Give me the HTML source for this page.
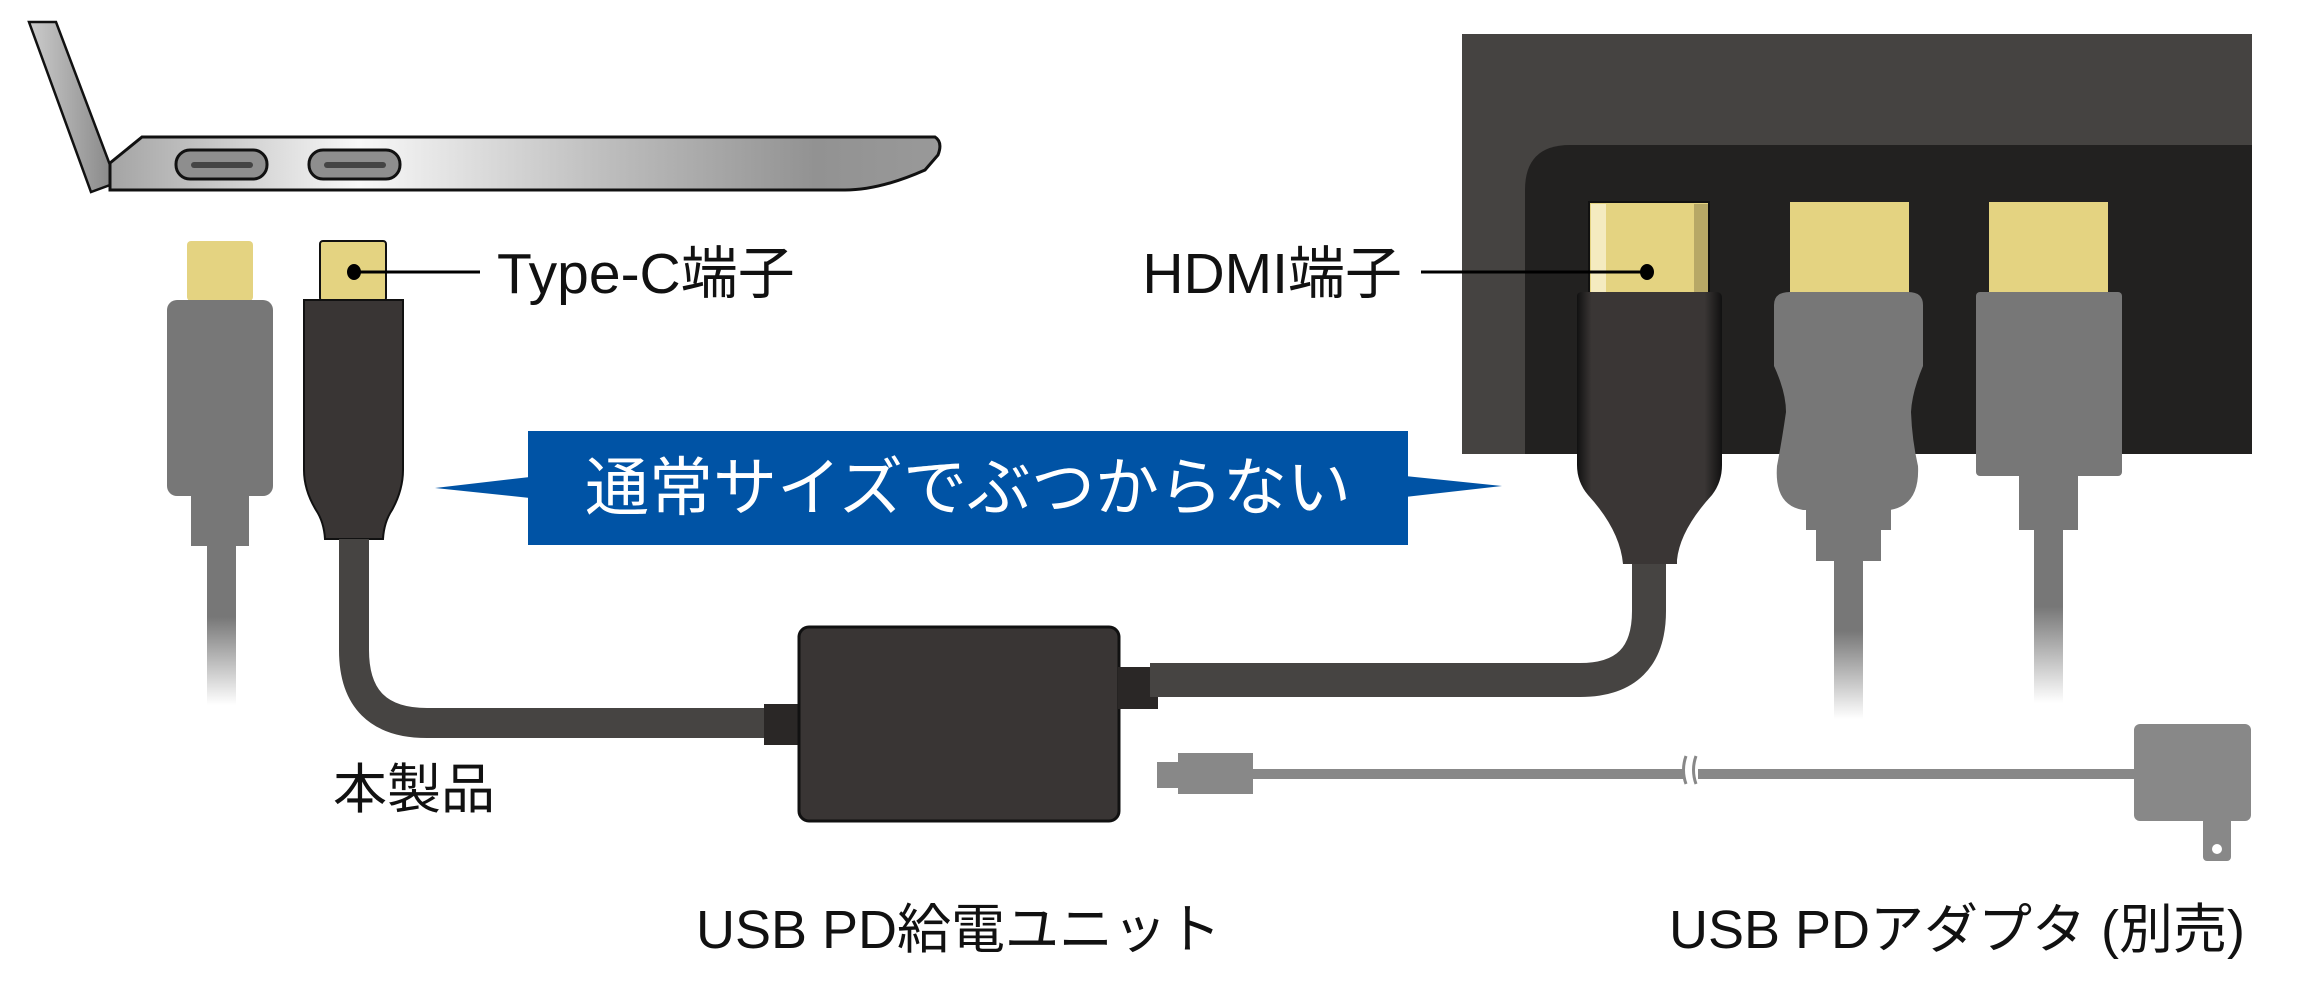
<!DOCTYPE html>
<html><head><meta charset="utf-8"><style>
html,body{margin:0;padding:0;background:#fff;}
svg{display:block;}
text{font-family:"Liberation Sans","Noto Sans CJK JP",sans-serif;}
</style></head><body>
<svg width="2297" height="1000" viewBox="0 0 2297 1000" xmlns="http://www.w3.org/2000/svg">
<defs>
<linearGradient id="base" x1="0" x2="1" y1="0" y2="0">
<stop offset="0" stop-color="#a4a4a4"/><stop offset="0.3" stop-color="#f8f8f8"/><stop offset="0.6" stop-color="#bdbdbd"/><stop offset="0.85" stop-color="#929292"/><stop offset="1" stop-color="#999"/>
</linearGradient>
<linearGradient id="lid" x1="0" x2="1"><stop offset="0" stop-color="#ccc"/><stop offset="1" stop-color="#8a8a8a"/></linearGradient>
<linearGradient id="fadeL" x1="0" x2="0" y1="0" y2="1"><stop offset="0" stop-color="#777"/><stop offset="0.45" stop-color="#777"/><stop offset="1" stop-color="#777" stop-opacity="0"/></linearGradient>
<linearGradient id="blk" x1="0" x2="1"><stop offset="0" stop-color="#111"/><stop offset="0.1" stop-color="#3a3635"/><stop offset="0.88" stop-color="#3a3635"/><stop offset="1" stop-color="#111"/></linearGradient>
</defs>

<!-- laptop -->
<polygon points="29,22 56,22 110,165 110,185 91,192" fill="url(#lid)" stroke="#111" stroke-width="2.5"/>
<path d="M110,163 L142,137 L935,137 Q943,142 938,155 L925,170 Q880,190 845,190 L110,190 Z" fill="url(#base)" stroke="#111" stroke-width="3"/>
<rect x="176" y="150" width="91" height="29" rx="14" fill="#8e8e8e" stroke="#111" stroke-width="3"/>
<rect x="191" y="162" width="62" height="6" rx="3" fill="#444"/>
<rect x="309" y="150" width="91" height="29" rx="14" fill="#8e8e8e" stroke="#111" stroke-width="3"/>
<rect x="324" y="162" width="62" height="6" rx="3" fill="#444"/>

<!-- left gray plug -->
<rect x="187" y="241" width="66" height="60" rx="4" fill="#e4d381"/>
<rect x="167" y="300" width="106" height="196" rx="10" fill="#777"/>
<rect x="191" y="494" width="58" height="52" fill="#777"/>
<rect x="207" y="545" width="29" height="160" fill="url(#fadeL)"/>

<!-- black typec plug -->
<rect x="320" y="241" width="66" height="60" rx="3" fill="#e4d381" stroke="#111" stroke-width="2"/>
<path d="M304,300 L403,300 L403,470 Q403,490 392,510 Q384,522 383,539 L325,539 Q324,522 316,510 Q304,490 304,470 Z" fill="#393534" stroke="#111" stroke-width="2"/>
<path d="M354,539 L354,650 Q354,723 427,723 L770,723" fill="none" stroke="#464442" stroke-width="30"/>
<rect x="764" y="704" width="38" height="41" fill="#2a2726"/>

<!-- unit -->
<rect x="799" y="627" width="320" height="194" rx="10" fill="#393534" stroke="#111" stroke-width="3"/>
<rect x="1118" y="667" width="40" height="42" fill="#2a2726"/>

<!-- right cable -->
<path d="M1150,680 L1580,680 Q1649,680 1649,611 L1649,560" fill="none" stroke="#464442" stroke-width="34"/>

<!-- mini usb + adapter -->
<rect x="1157" y="762" width="24" height="26" fill="#888"/>
<rect x="1178" y="753" width="75" height="41" fill="#888"/>
<rect x="1250" y="769" width="890" height="10" fill="#888"/>
<rect x="1684" y="760" width="14" height="28" fill="#fff"/>
<path d="M1686,756 q-5,14 0,28 M1696,756 q-5,14 0,28" stroke="#888" stroke-width="3" fill="none"/>
<rect x="2134" y="724" width="117" height="97" rx="6" fill="#888"/>
<rect x="2203" y="815" width="28" height="46" rx="4" fill="#888"/>
<circle cx="2217" cy="849" r="5" fill="#fff"/>

<!-- monitor -->
<rect x="1462" y="34" width="790" height="420" fill="#454341"/>
<path d="M1525,454 L1525,190 Q1525,145 1570,145 L2252,145 L2252,454 Z" fill="#222120"/>
<rect x="1589" y="202" width="120" height="92" fill="#e4d381" stroke="#111" stroke-width="2"/>
<rect x="1591" y="204" width="15" height="88" fill="#f4ebc0"/>
<rect x="1694" y="204" width="14" height="88" fill="#b7a866"/>
<rect x="1790" y="202" width="119" height="92" fill="#e4d381"/>
<rect x="1989" y="202" width="119" height="92" fill="#e4d381"/>

<!-- black HDMI plug -->
<path d="M1577,296 Q1577,292 1583,292 L1716,292 Q1722,292 1722,298 L1722,465 Q1722,482 1712,495 Q1680,530 1677,560 L1677,564 L1623,564 Q1620,530 1588,495 Q1577,482 1577,465 Z" fill="url(#blk)"/>

<!-- gray HDMI plug 2 -->
<path d="M1774,305 Q1774,292 1790,292 L1908,292 Q1923,292 1923,305 L1923,366 Q1912,392 1911,412 Q1912,440 1918,466 Q1920,505 1890,510 L1803,510 Q1774,505 1777,466 Q1782,440 1786,412 Q1786,392 1774,366 Z" fill="#777"/>
<rect x="1806" y="508" width="85" height="22" fill="#777"/>
<rect x="1816" y="528" width="65" height="33" fill="#777"/>
<rect x="1834" y="559" width="29" height="160" fill="url(#fadeL)"/>

<!-- gray plug 3 -->
<rect x="1976" y="292" width="146" height="184" rx="4" fill="#777"/>
<rect x="2019" y="474" width="59" height="56" fill="#777"/>
<rect x="2034" y="528" width="29" height="175" fill="url(#fadeL)"/>

<!-- callouts -->
<line x1="354" y1="272" x2="480" y2="272" stroke="#000" stroke-width="3"/>
<ellipse cx="354" cy="272" rx="7" ry="8" fill="#000"/>
<text x="497" y="293" font-size="57" fill="#111">Type-C端子</text>
<line x1="1421" y1="272" x2="1647" y2="272" stroke="#000" stroke-width="3"/>
<ellipse cx="1647" cy="272" rx="7" ry="8" fill="#000"/>
<text x="1402" y="293" font-size="57" fill="#111" text-anchor="end">HDMI端子</text>

<!-- banner -->
<polygon points="435,488 530,477 530,498" fill="#0053a5"/>
<polygon points="1502,486 1405,476 1405,497" fill="#0053a5"/>
<rect x="528" y="431" width="880" height="114" fill="#0053a5"/>
<text x="968" y="510" font-size="64" fill="#fff" text-anchor="middle">通常サイズでぶつからない</text>

<text x="333" y="808" font-size="54" fill="#111">本製品</text>
<text x="696" y="948" font-size="54" fill="#111">USB PD給電ユニット</text>
<text x="1669" y="948" font-size="54" fill="#111">USB PDアダプタ (別売)</text>
</svg>
</body></html>
